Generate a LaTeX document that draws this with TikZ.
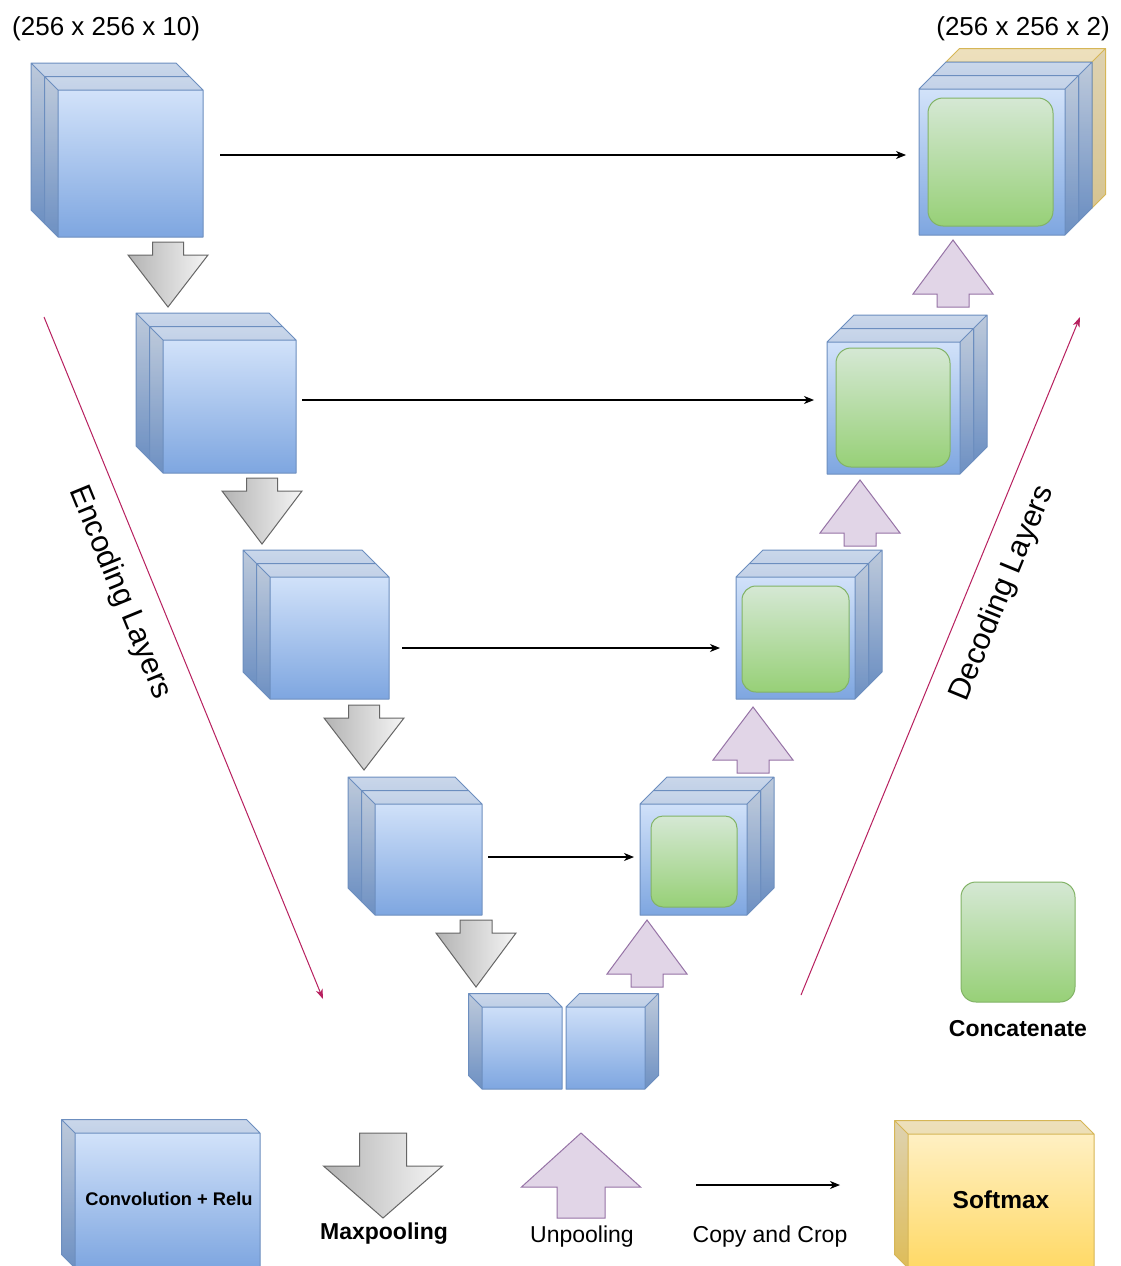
\documentclass[tikz,border=0pt]{standalone}
\usepackage{fontspec}
\setmainfont{Liberation Sans}
\usetikzlibrary{arrows.meta}

\definecolor{cubeTop}{HTML}{DAE8FC}
\definecolor{cubeBot}{HTML}{7EA6E0}
\definecolor{cubeLine}{HTML}{6C8EBF}
\definecolor{softTop}{HTML}{FFF2CC}
\definecolor{softBot}{HTML}{FFD966}
\definecolor{softLine}{HTML}{D6B656}
\definecolor{paleBot}{HTML}{F7E2A8}
\definecolor{catTop}{HTML}{D5E8D4}
\definecolor{catBot}{HTML}{97D077}
\definecolor{catLine}{HTML}{82B366}
\definecolor{poolDark}{HTML}{B3B3B3}
\definecolor{poolLight}{HTML}{F5F5F5}
\definecolor{poolLine}{HTML}{666666}
\definecolor{upFill}{HTML}{E1D5E7}
\definecolor{upLine}{HTML}{9673A6}
\definecolor{layerLine}{HTML}{B8205F}

\tikzset{
  blue fill/.style={top color=cubeTop, bottom color=cubeBot},
  blue line/.style={draw=cubeLine},
  yellow fill/.style={top color=softTop, bottom color=softBot},
  yellow line/.style={draw=softLine},
  pale fill/.style={top color=softTop, bottom color=paleBot},
  pale line/.style={draw=softLine},
  hold/.style={inner sep=0pt, outer sep=0pt, draw=none, fill=none},
  concat/.style={inner sep=0pt, outer sep=0pt, rounded corners=15pt,
    top color=catTop, bottom color=catBot, draw=catLine, line width=1pt},
  pooldown/.style={left color=poolDark, right color=poolLight, draw=poolLine, line width=1pt},
  poolup/.style={fill=upFill, draw=upLine, line width=1pt},
  copyline/.style={draw=black, line width=1.1pt,
    -{Stealth[length=10pt, width=8pt, inset=3pt]}},
  layerline/.style={draw=layerLine, line width=1pt,
    -{Stealth[length=10pt, width=7pt, inset=3pt]}},
  dimtext/.style={inner sep=0pt, font=\fontsize{26}{30}\selectfont},
  layertext/.style={inner sep=0pt, font=\fontsize{30.5}{36}\selectfont},
  legendtext/.style={inner sep=0pt, font=\fontsize{23}{27}\selectfont},
  legendbold/.style={inner sep=0pt, font=\bfseries\fontsize{23}{27}\selectfont},
}

% one cube slab: front face (#1,#2)-(#3,#4), depth towards the upper left
\newcommand{\cubeUL}[5]{%
  \path[#5 fill] (#1-13.5,#2-13.5) -- (#3-13.5,#2-13.5) -- (#3,#2) -- (#3,#4)
    -- (#1,#4) -- (#1-13.5,#4-13.5) -- cycle;
  \fill[black, fill opacity=.07] (#1-13.5,#2-13.5) -- (#3-13.5,#2-13.5) -- (#3,#2) -- (#1,#2) -- cycle;
  \fill[black, fill opacity=.13] (#1-13.5,#2-13.5) -- (#1,#2) -- (#1,#4) -- (#1-13.5,#4-13.5) -- cycle;
  \draw[#5 line, line width=1pt, line join=round]
    (#1-13.5,#2-13.5) -- (#3-13.5,#2-13.5) -- (#3,#2) -- (#3,#4)
    -- (#1,#4) -- (#1-13.5,#4-13.5) -- cycle
    (#1-13.5,#2-13.5) -- (#1,#2) -- (#3,#2) (#1,#2) -- (#1,#4);
}
% one cube slab: front face (#1,#2)-(#3,#4), depth towards the upper right
\newcommand{\cubeUR}[5]{%
  \path[#5 fill] (#1,#2) -- (#1+13.5,#2-13.5) -- (#3+13.5,#2-13.5)
    -- (#3+13.5,#4-13.5) -- (#3,#4) -- (#1,#4) -- cycle;
  \fill[black, fill opacity=.07] (#1,#2) -- (#1+13.5,#2-13.5) -- (#3+13.5,#2-13.5) -- (#3,#2) -- cycle;
  \fill[black, fill opacity=.13] (#3,#2) -- (#3+13.5,#2-13.5) -- (#3+13.5,#4-13.5) -- (#3,#4) -- cycle;
  \draw[#5 line, line width=1pt, line join=round]
    (#1,#2) -- (#1+13.5,#2-13.5) -- (#3+13.5,#2-13.5)
    -- (#3+13.5,#4-13.5) -- (#3,#4) -- (#1,#4) -- cycle
    (#1,#2) -- (#3,#2) -- (#3,#4) (#3,#2) -- (#3+13.5,#2-13.5);
}
% named front face of a block
\newcommand{\faceNode}[5]{%
  \node[hold, minimum width={#4-#2}, minimum height={#5-#3}] (#1)
    at ({(#2+#4)/2},{(#3+#5)/2}) {};
}
% encoder block: two slabs
\newcommand{\encBlock}[5]{%
  \cubeUL{#2-13.5}{#3-13.5}{#4-13.5}{#5-13.5}{blue}
  \cubeUL{#2}{#3}{#4}{#5}{blue}
  \faceNode{#1}{#2}{#3}{#4}{#5}
}
% decoder block: two slabs
\newcommand{\decBlock}[5]{%
  \cubeUR{#2+13.5}{#3-13.5}{#4+13.5}{#5-13.5}{blue}
  \cubeUR{#2}{#3}{#4}{#5}{blue}
  \faceNode{#1}{#2}{#3}{#4}{#5}
}
% max-pooling arrow: centre x, top, width, height, shaft width, shaft height
\newcommand{\poolDown}[6]{%
  \draw[pooldown, line join=miter] (#1-#5/2,#2) -- (#1+#5/2,#2) -- (#1+#5/2,#2+#6)
    -- (#1+#3/2,#2+#6) -- (#1,#2+#4) -- (#1-#3/2,#2+#6) -- (#1-#5/2,#2+#6) -- cycle;
}
% unpooling arrow: centre x, tip, width, height, shaft width, shaft height
\newcommand{\poolUp}[6]{%
  \draw[poolup, line join=miter] (#1,#2) -- (#1+#3/2,#2+#4-#6) -- (#1+#5/2,#2+#4-#6)
    -- (#1+#5/2,#2+#4) -- (#1-#5/2,#2+#4) -- (#1-#5/2,#2+#4-#6)
    -- (#1-#3/2,#2+#4-#6) -- cycle;
}

\begin{document}
\begin{tikzpicture}[x=1pt, y=-1pt]
\useasboundingbox (0,0) rectangle (1120,1266);
\fill[white] (0,0) rectangle (1120,1266);

% ---- encoder path ----
\encBlock{e1}{58}{90}{203}{237}
\encBlock{e2}{163}{340}{296}{473}
\encBlock{e3}{270}{577}{389}{699}
\encBlock{e4}{375}{804}{482}{915}

% ---- bottleneck ----
\cubeUL{482}{1007}{562}{1089}{blue}
\faceNode{b1}{482}{1007}{562}{1089}
\cubeUR{566}{1007}{645}{1089}{blue}
\faceNode{b2}{566}{1007}{645}{1089}

% ---- decoder path ----
\cubeUR{919+27}{89-27}{1065+27}{235-27}{pale}
\decBlock{d1}{919}{89}{1065}{235}
\decBlock{d2}{827}{342}{960}{474}
\decBlock{d3}{736}{577}{855}{699}
\decBlock{d4}{640}{804}{747}{915}

% concatenated feature maps
\node[concat, minimum width=125, minimum height=128] (g1) at (990.5,162) {};
\node[concat, minimum width=114, minimum height=119] (g2) at (893,407.5) {};
\node[concat, minimum width=107, minimum height=106, rounded corners=14pt] (g3) at (795.5,639) {};
\node[concat, minimum width=86, minimum height=91, rounded corners=12pt] (g4) at (694,861.5) {};

% max pooling
\poolDown{168}{242}{80}{65}{31}{13}
\poolDown{262}{478}{80}{66}{31}{13}
\poolDown{364}{705}{80}{65}{31}{13}
\poolDown{476}{920}{80}{67}{32}{13}

% unpooling
\poolUp{953}{240}{80}{67}{32}{13}
\poolUp{860}{480}{80}{66}{32}{13}
\poolUp{753}{707}{80}{66}{32}{13}
\poolUp{647}{920}{80}{67}{32}{13}

% skip connections
\draw[copyline, shorten <=17pt, shorten >=13pt] (e1.east |- 0,155) -- (d1.west |- 0,155);
\draw[copyline, shorten <=6pt, shorten >=13pt] (e2.east |- 0,400) -- (d2.west |- 0,400);
\draw[copyline, shorten <=13pt, shorten >=16pt] (e3.east |- 0,648) -- (d3.west |- 0,648);
\draw[copyline, shorten <=6pt, shorten >=6pt] (e4.east |- 0,857) -- (d4.west |- 0,857);

% layer direction arrows
\coordinate (encStart) at (44,317);
\coordinate (encEnd) at (323,999);
\coordinate (decStart) at (801,995);
\coordinate (decEnd) at (1080,317);
\draw[layerline] (encStart) -- (encEnd);
\draw[layerline] (decStart) -- (decEnd);
\node[layertext, rotate=-67.7] (encLabel) at (120,592.5) {Encoding Layers};
\node[layertext, rotate=67.7] (decLabel) at (1002.5,593.5) {Decoding Layers};

% tensor sizes
\node[dimtext, anchor=base west] (inSize) at (12,35) {(256 x 256 x 10)};
\node[dimtext, anchor=base east] (outSize) at (1110,35) {(256 x 256 x 2)};

% ---- legend ----
\node[concat, minimum width=114, minimum height=120] (legCat) at (1018,942) {};
\node[legendbold, anchor=base] (legCatText) at (1018,1036) {Concatenate};

\cubeUL{75}{1133}{260}{1268}{blue}
\faceNode{legConv}{75}{1133}{260}{1268}
\node[legendbold, font=\bfseries\fontsize{18.3}{22}\selectfont, anchor=base] (legConvText) at (169,1205) {Convolution + Relu};

\poolDown{383}{1133}{119}{85}{47}{33}
\node[legendbold, anchor=base] (legPoolText) at (384,1239) {Maxpooling};

\poolUp{581}{1133}{119}{85}{48}{31}
\node[legendtext, anchor=base] (legUpText) at (582,1242) {Unpooling};

\coordinate (legCopyStart) at (696,1185);
\coordinate (legCopyEnd) at (840,1185);
\draw[copyline] (legCopyStart) -- (legCopyEnd);
\node[legendtext, anchor=base] (legCopyText) at (770,1242) {Copy and Crop};

\cubeUL{908}{1134}{1094}{1268}{yellow}
\faceNode{legSoft}{908}{1134}{1094}{1268}
\node[legendbold, font=\bfseries\fontsize{24.5}{29}\selectfont, anchor=base] (legSoftText) at (1001,1208) {Softmax};
\end{tikzpicture}
\end{document}
